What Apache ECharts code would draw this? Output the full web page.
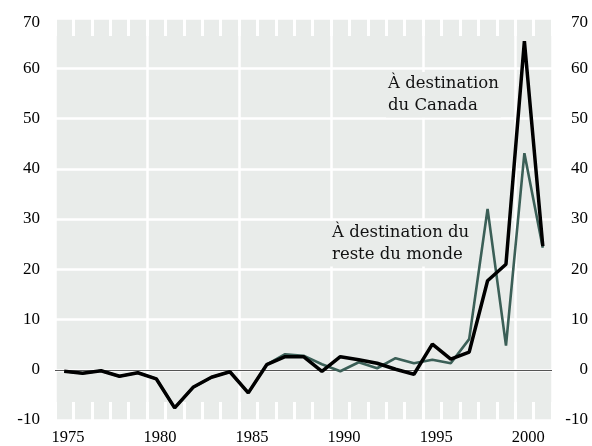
<!DOCTYPE html>
<html>
<head>
<meta charset="utf-8">
<script src="https://cdn.jsdelivr.net/npm/echarts@6/dist/echarts.min.js"></script>
<style>html,body{margin:0;padding:0;background:#fff}#c{width:592px;height:446px}</style>
</head>
<body>
<div id="c"></div>
<script>
var years = [1975,1976,1977,1978,1979,1980,1981,1982,1983,1984,1985,1986,1987,1988,1989,1990,1991,1992,1993,1994,1995,1996,1997,1998,1999,2000,2001];
var canada = [-0.3,-0.7,-0.2,-1.3,-0.6,-1.8,-7.6,-3.5,-1.5,-0.4,-4.6,1.0,2.6,2.6,-0.3,2.6,2.0,1.3,0.1,-0.9,5.1,2.1,3.5,17.7,21.0,65.4,24.6];
var resteMonde = [-0.3,-0.7,-0.2,-1.3,-0.6,-1.8,-7.6,-3.5,-1.5,-0.4,-4.6,1.0,3.1,2.8,1.1,-0.3,1.5,0.3,2.3,1.3,2.0,1.3,6.1,32.0,4.8,43.1,24.3];
var yTicks = [-10,0,10,20,30,40,50,60,70];
var labelCanada = 'À destination\ndu Canada';
var labelMonde = 'À destination du\nreste du monde';

function pts(vals){ return years.map(function(y,i){ return [y+0.5, vals[i]]; }); }

var SERIF = "'Liberation Serif', 'Times New Roman', serif";
var xFont = {fontFamily:SERIF, fontSize:16.5, color:'#000'};
var yFont = {fontFamily:SERIF, fontSize:17, color:'#000'};
function yLab(v){ return v===70 ? '{t|70}' : String(v); }
var rich = {t:{fontFamily:SERIF, fontSize:17, color:'#000', padding:[10,0,0,0]}};
var BG = '#e9ecea';

var chart = echarts.init(document.getElementById('c'), null, {renderer:'canvas'});
chart.setOption({
  animation:false,
  backgroundColor:'#fff',
  grid:{left:55, right:40, top:18, bottom:23, show:true, backgroundColor:BG, borderWidth:0},
  xAxis:[{
    type:'value', min:1975, max:2002, interval:5, position:'bottom',
    axisLine:{show:false, onZero:false},
    axisTick:{show:true, inside:true, length:18, lineStyle:{color:'#fff', width:3}},
    minorTick:{show:true, splitNumber:5, length:18, lineStyle:{color:'#fff', width:3}},
    splitLine:{show:true, lineStyle:{color:'#fff', width:2.5}},
    axisLabel:Object.assign({margin:9, formatter:function(v){return String(v);}, padding:[0,0,0,26], showMaxLabel:false}, xFont)
  },{
    type:'value', min:1975, max:2002, interval:5, position:'top',
    axisLine:{show:false, onZero:false},
    axisTick:{show:true, inside:true, length:18, lineStyle:{color:'#fff', width:3}},
    minorTick:{show:true, splitNumber:5, length:18, lineStyle:{color:'#fff', width:3}},
    splitLine:{show:false},
    axisLabel:{show:false}
  }],
  yAxis:[{
    type:'value', min:-10, max:70, interval:10, position:'left',
    axisLine:{show:false}, axisTick:{show:false},
    splitLine:{show:true, lineStyle:{color:'#fff', width:2.5}},
    axisLabel:Object.assign({margin:15, formatter:yLab, rich:rich}, yFont)
  },{
    type:'value', min:-10, max:70, interval:10, position:'right',
    axisLine:{show:false}, axisTick:{show:false}, splitLine:{show:false},
    axisLabel:Object.assign({margin:36, align:'right', formatter:yLab, rich:rich}, yFont)
  }],
  series:[{
    name:'reste du monde', type:'line', data:pts(resteMonde), symbol:'none',
    lineStyle:{color:'#3b5f57', width:2.6}, z:3,
    markLine:{silent:true, symbol:'none', label:{show:false},
      lineStyle:{color:'#555', width:1, type:'solid'}, data:[{yAxis:0}], z:2}
  },{
    name:'Canada', type:'line', data:pts(canada), symbol:'none',
    lineStyle:{color:'#000', width:3.5}, z:4
  }],
  graphic:[
    {type:'text', left:386, top:72, z:1, style:{text:labelCanada, fontFamily:"'DejaVu Serif', serif", fontSize:16.5, lineHeight:21.7, fill:'#111', backgroundColor:BG, padding:[1,2,1,2]}},
    {type:'text', left:330, top:221, z:1, style:{text:labelMonde, fontFamily:"'DejaVu Serif', serif", fontSize:16.5, lineHeight:21.7, fill:'#111', backgroundColor:BG, padding:[1,2,1,2]}}
  ]
});
</script>
</body>
</html>
